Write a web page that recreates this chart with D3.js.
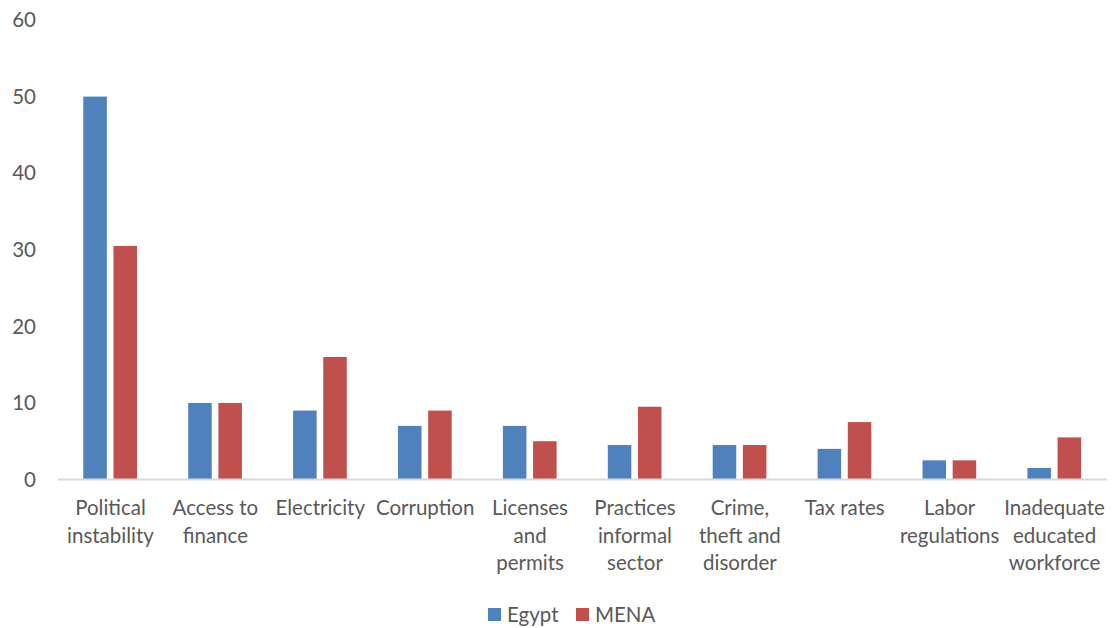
<!DOCTYPE html>
<html><head><meta charset="utf-8">
<script src="https://cdn.jsdelivr.net/npm/d3@7"></script>
<style>body{margin:0;background:#fff}svg{display:block}text{font-family:Lato,"Open Sans",sans-serif;fill:#595959}</style>
</head><body><svg id="c" width="1112" height="628"></svg>
<script>
const categories = [["Political","instability"],["Access to","finance"],["Electricity"],["Corruption"],["Licenses","and","permits"],["Practices","informal","sector"],["Crime,","theft and","disorder"],["Tax rates"],["Labor","regulations"],["Inadequate","educated","workforce"]];
const egypt = [50,10,9,7,7,4.5,4.5,4,2.5,1.5];
const mena = [30.5,10,16,9,5,9.5,4.5,7.5,2.5,5.5];
const seriesNames = ["Egypt","MENA"];
const colors = ["#4f81bd","#c0504d"];
const yTicks = [0,10,20,30,40,50,60];

const fs = 20.5;
const svg = d3.select("#c");
const x = d3.scaleBand().domain(d3.range(categories.length)).range([58,1107]).paddingInner(0).paddingOuter(0);
const y = d3.scaleLinear().domain([0,60]).range([479.5,20]);
const x1 = d3.scaleBand().domain([0,1]).range([25.3,79]).paddingInner(0.22);

const series = [egypt, mena];
series.forEach((vals,si)=>{
  svg.append("g").selectAll("rect").data(vals).join("rect")
    .attr("x",(d,i)=>x(i)+x1(si))
    .attr("width",x1.bandwidth())
    .attr("y",d=>y(d))
    .attr("height",d=>y(0)-y(d))
    .attr("fill",colors[si]);
});

// y axis labels
svg.append("g").selectAll("text").data(yTicks).join("text")
  .attr("x",36).attr("y",d=>y(d)).attr("dy","0.35em")
  .attr("text-anchor","end").attr("font-size",fs).text(d=>d);

// x axis line
svg.append("line").attr("x1",58).attr("x2",1107).attr("y1",y(0)).attr("y2",y(0))
  .attr("stroke","#d9d9d9").attr("stroke-width",2);

// category labels
const lab = svg.append("g").selectAll("text").data(categories).join("text")
  .attr("text-anchor","middle").attr("font-size",fs)
  .attr("transform",(d,i)=>`translate(${x(i)+x.bandwidth()/2},0)`);
lab.selectAll("tspan").data(d=>d).join("tspan")
  .attr("x",0).attr("y",(d,j)=>515+j*27.7).text(d=>d);

// legend
const legX = [488,576];
const lg = svg.append("g");
seriesNames.forEach((n,i)=>{
  lg.append("rect").attr("x",legX[i]).attr("y",608).attr("width",13).attr("height",13).attr("fill",colors[i]);
  lg.append("text").attr("x",legX[i]+19).attr("y",614.5).attr("dy","0.35em").attr("font-size",fs).text(n);
});
</script></body></html>
